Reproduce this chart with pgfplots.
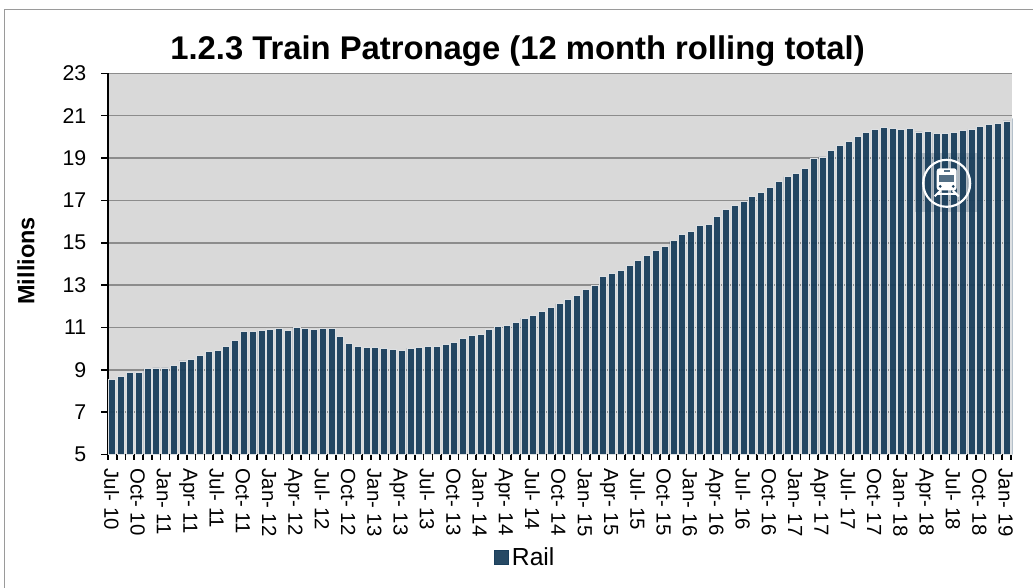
\documentclass[border=0pt]{standalone}
\usepackage{pgfplots}
\pgfplotsset{compat=1.18}
\usepackage{fontspec}
\setmainfont{Liberation Sans}
\definecolor{barc}{HTML}{1A3F5C}
\definecolor{bg}{HTML}{D9D9D9}
\definecolor{halo}{HTML}{DDE0E3}
\definecolor{grd}{HTML}{8C8C8C}
\definecolor{frm}{HTML}{9A9A9A}
\pgfplotstableread{
i v
0 8.56
1 8.68
2 8.87
3 8.89
4 9.06
5 9.09
6 9.09
7 9.22
8 9.42
9 9.50
10 9.69
11 9.88
12 9.90
13 10.10
14 10.40
15 10.81
16 10.83
17 10.84
18 10.91
19 10.94
20 10.86
21 11.00
22 10.95
23 10.91
24 10.97
25 10.94
26 10.59
27 10.24
28 10.10
29 10.05
30 10.07
31 9.99
32 9.96
33 9.93
34 10.02
35 10.04
36 10.10
37 10.12
38 10.21
39 10.31
40 10.48
41 10.61
42 10.65
43 10.89
44 11.06
45 11.11
46 11.25
47 11.44
48 11.55
49 11.74
50 11.93
51 12.13
52 12.32
53 12.53
54 12.80
55 13.00
56 13.39
57 13.55
58 13.71
59 13.93
60 14.18
61 14.42
62 14.65
63 14.82
64 15.09
65 15.38
66 15.54
67 15.80
68 15.88
69 16.24
70 16.56
71 16.78
72 16.94
73 17.19
74 17.39
75 17.60
76 17.91
77 18.12
78 18.29
79 18.50
80 18.97
81 19.05
82 19.36
83 19.60
84 19.80
85 20.02
86 20.20
87 20.37
88 20.45
89 20.40
90 20.34
91 20.40
92 20.23
93 20.26
94 20.18
95 20.15
96 20.21
97 20.31
98 20.34
99 20.50
100 20.59
101 20.65
102 20.75
103 20.87
}\railtable
\begin{document}
\begin{tikzpicture}[x=0.75pt,y=-0.75pt]
\useasboundingbox (0,0) rectangle (1033,588);
\draw[frm,line width=1.4pt] (4.5,588) -- (4.5,9.5) -- (1033,9.5);
\node[font=\bfseries\fontsize{24.6}{27}\selectfont,anchor=base] at (517.5,59.5) {1.2.3 Train Patronage (12 month rolling total)};
\begin{axis}[
  at={(81pt,-340.9pt)},anchor=south west,
  scale only axis,
  width=678.2pt,height=285.9pt,
  xmin=-0.5,xmax=102.65,ymin=5,ymax=23,
  ytick={5,7,...,23},
  xtick={0,3,...,102},
  xticklabels={Jul-\ 10,Oct-\ 10,Jan-\ 11,Apr-\ 11,Jul-\ 11,Oct-\ 11,Jan-\ 12,Apr-\ 12,Jul-\ 12,Oct-\ 12,Jan-\ 13,Apr-\ 13,Jul-\ 13,Oct-\ 13,Jan-\ 14,Apr-\ 14,Jul-\ 14,Oct-\ 14,Jan-\ 15,Apr-\ 15,Jul-\ 15,Oct-\ 15,Jan-\ 16,Apr-\ 16,Jul-\ 16,Oct-\ 16,Jan-\ 17,Apr-\ 17,Jul-\ 17,Oct-\ 17,Jan-\ 18,Apr-\ 18,Jul-\ 18,Oct-\ 18,Jan-\ 19},
  extra x ticks={-0.5,0.5,...,102.5},
  extra x tick labels={},
  extra x tick style={grid=none,major tick length=3.75pt,tickwidth=3.75pt,tick style={black,line width=1.2pt}},
  extra y ticks={5,7,...,23},
  extra y tick labels={},
  extra y tick style={grid=none,major tick length=5.25pt,tick style={black,line width=1.2pt}},
  major tick length=0pt,
  /pgf/number format/assume math mode=true,
  yticklabel style={font=\fontsize{16}{18}\selectfont,black,xshift=-12.75pt},
  xticklabel style={font=\fontsize{15.3}{18}\selectfont,black,rotate=-90,anchor=base west,xshift=7pt,yshift=-6pt},
  tick align=outside,
  xtick pos=bottom, ytick pos=left,
  axis line style={black,line width=1.4pt},
  axis x line*=bottom, axis y line*=left,
  axis background/.style={fill=bg},
  ymajorgrids,
  grid style={grd,line width=1.2pt},
  ylabel={\bfseries Millions},
  ylabel style={font=\fontsize{17.6}{19}\selectfont,at={(axis description cs:-0.0906,0.508)},anchor=center},
  legend style={draw=none,fill=none,font=\fontsize{18.5}{20}\selectfont,at={(0.462,-0.27)},anchor=center,legend columns=1},
  legend image code/.code={\fill[barc] (0cm,-0.185cm) rectangle (0.37cm,0.185cm);},
]
\addplot[ybar,bar width=0.8,fill=barc,fill opacity=0.95,draw=halo,line width=0.6pt] table[x=i,y=v] {\railtable};
\addlegendentry{Rail}
\end{axis}
\begin{scope}[shift={(946.7,183.3)}]
\fill[barc,opacity=0.22] (-32,-30) rectangle (30,29);
\draw[white,line width=1.6pt] (0,0) circle (23.5);
\fill[white,rounded corners=2pt] (-10,-15) rectangle (10,7);
\fill[barc!75!white] (-7.5,-8.5) rectangle (7.5,-1);
\fill[barc!75!white] (-3,-13.5) rectangle (3,-11);
\fill[barc] (-6.5,3) circle (1.5); \fill[barc] (6.5,3) circle (1.5);
\draw[white,line width=1.5pt] (-6,7) -- (-12,13) (6,7) -- (12,13) (-9,10.5) -- (9,10.5);
\end{scope}
\end{tikzpicture}
\end{document}
